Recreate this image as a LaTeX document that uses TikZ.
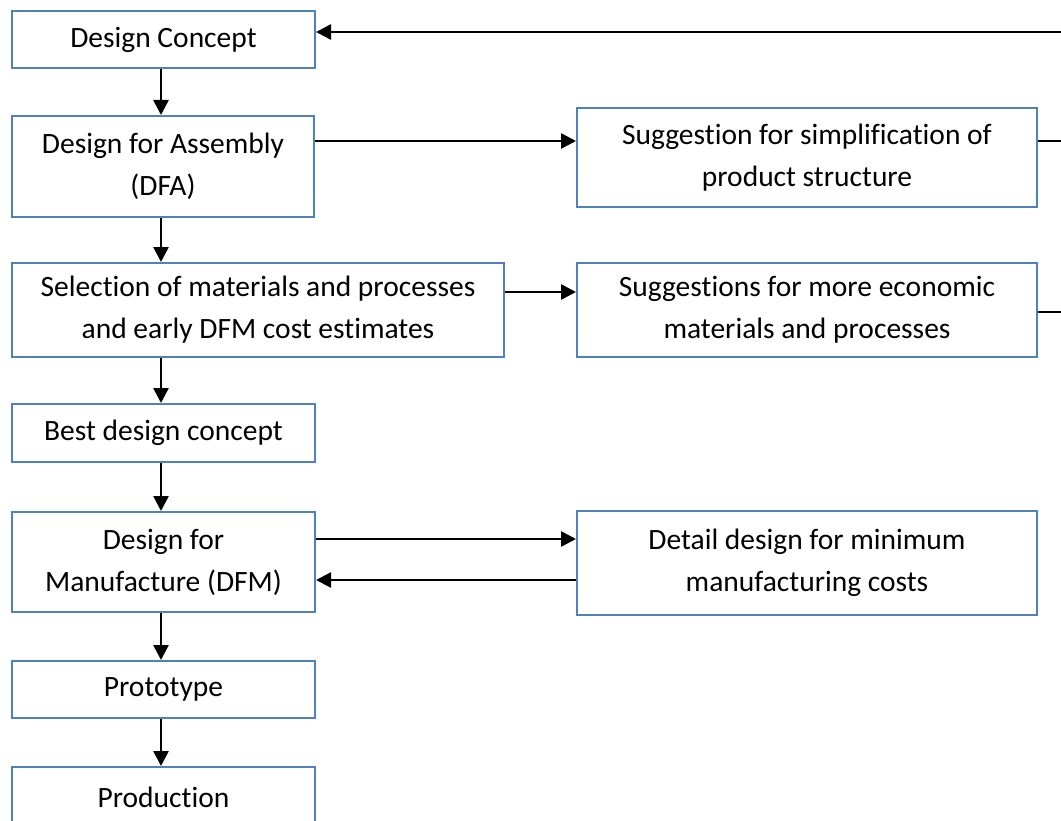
\documentclass[tikz,border=0pt]{standalone}
\usepackage{fontspec}
\setmainfont[Ligatures=NoCommon]{Carlito}
\usetikzlibrary{arrows.meta,calc}
\definecolor{boxblue}{RGB}{79,129,189}
\begin{document}
\begin{tikzpicture}[x=1bp,y=-1bp,
  box/.style={draw=boxblue,line width=2bp,rectangle,align=center,inner sep=0pt,
    font=\fontsize{29.5bp}{42bp}\selectfont},
  arr/.style={line width=2.6bp,-{Triangle[length=15bp,width=15bp]}},
  ln/.style={line width=2.6bp}]
\useasboundingbox (0,0) rectangle (1061,821);
\clip (0,0) rectangle (1061,821);
\fill[white] (0,0) rectangle (1061,821);
% left column
\node[box,minimum width=303bp,minimum height=57bp] (dc) at (163.5,39.5) {Design Concept};
\node[box,minimum width=302bp,minimum height=101bp] (dfa) at (163,166.5) {Design for Assembly\\(DFA)};
\node[box,minimum width=492bp,minimum height=94bp] (sel) at (258,310) {Selection of materials and processes\\and early DFM cost estimates};
\node[box,minimum width=303bp,minimum height=58bp] (best) at (163.5,433) {Best design concept};
\node[box,minimum width=303bp,minimum height=100bp] (dfm) at (163.5,562) {Design for\\Manufacture (DFM)};
\node[box,minimum width=303bp,minimum height=57bp] (proto) at (163.5,689.5) {Prototype};
\node[box,minimum width=303bp,minimum height=60bp,text depth=0pt] (prod) at (163.5,797) {Production};
% right column
\node[box,minimum width=460bp,minimum height=99bp] (sug) at (807,157.5) {Suggestion for simplification of\\product structure};
\node[box,minimum width=460bp,minimum height=94bp] (sugs) at (807,310) {Suggestions for more economic\\materials and processes};
\node[box,minimum width=460bp,minimum height=104bp] (det) at (807,563) {Detail design for minimum\\manufacturing costs};
% y levels
\coordinate (yTop) at (1064,32);
\coordinate (ySug) at (1064,141);
\coordinate (ySugs) at (1064,312);
\coordinate (ySel) at (0,292);
\coordinate (yDfmA) at (0,539);
\coordinate (yDfmB) at (0,580);
\coordinate (xv) at (161,0);
% vertical arrows
\draw[arr] (dc.south -| xv) -- (dfa.north -| xv);
\draw[arr] (dfa.south -| xv) -- (sel.north -| xv);
\draw[arr] (sel.south -| xv) -- (best.north -| xv);
\draw[arr] (best.south -| xv) -- (dfm.north -| xv);
\draw[arr] (dfm.south -| xv) -- (proto.north -| xv);
\draw[arr] (proto.south -| xv) -- (prod.north -| xv);
% horizontal
\draw[arr] (dfa.east |- ySug) -- (sug.west |- ySug);
\draw[arr] (sel.east |- ySel) -- (sugs.west |- ySel);
\draw[arr] (dfm.east |- yDfmA) -- (det.west |- yDfmA);
\draw[arr] (det.west |- yDfmB) -- (dfm.east |- yDfmB);
\draw[ln] (sug.east |- ySug) -- (ySug);
\draw[ln] (sugs.east |- ySugs) -- (ySugs);
\draw[arr] (yTop) -- (dc.east |- yTop);
\end{tikzpicture}
\end{document}
